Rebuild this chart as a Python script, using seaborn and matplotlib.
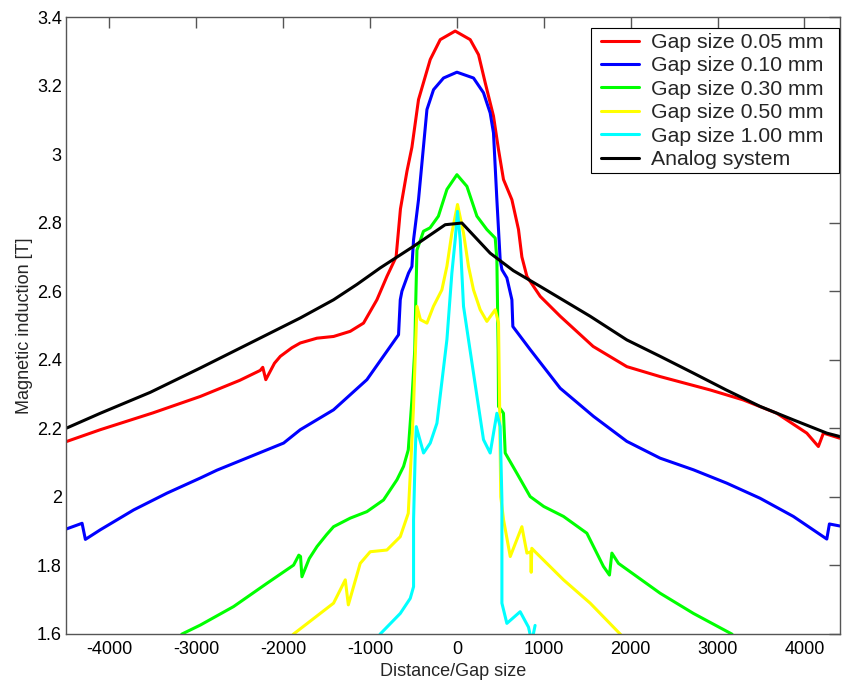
import numpy as np
import pandas as pd
import matplotlib
matplotlib.use("Agg")
import matplotlib.pyplot as plt
from matplotlib.patches import Rectangle
import seaborn as sns
from matplotlib.ticker import FuncFormatter

# ---------------- data ----------------
series_names = ["Gap size 0.05 mm", "Gap size 0.10 mm", "Gap size 0.30 mm",
                "Gap size 0.50 mm", "Gap size 1.00 mm", "Analog system"]
series_colors = ["#ff0000", "#0000ff", "#00ff00", "#ffff00", "#00ffff", "#000000"]

red_x = [-4500, -4105, -3500, -2954, -2500, -2264, -2235, -2200, -2100, -2033, -1900,
         -1803, -1611, -1420, -1228, -1075, -921, -806, -700, -650, -575, -518, -442,
         -307, -192, -20, 153, 249, 326, 421, 479, 536, 633, 709, 748, 806, 959,
         1189, 1568, 1956, 2339, 2915, 3295, 3682, 4028, 4161, 4219, 4410]
red_y = [2.161, 2.196, 2.245, 2.293, 2.34, 2.369, 2.378, 2.342, 2.39, 2.41, 2.435,
         2.449, 2.463, 2.468, 2.483, 2.507, 2.575, 2.643, 2.70, 2.84, 2.95, 3.02, 3.159,
         3.276, 3.334, 3.359, 3.334, 3.29, 3.208, 3.111, 3.013, 2.926, 2.867, 2.78, 2.70,
         2.643, 2.585, 2.527, 2.439, 2.38, 2.351, 2.312, 2.283, 2.244, 2.186, 2.147,
         2.186, 2.171]

blue_x = [-4500, -4315, -4277, -4105, -3721, -3337, -2954, -2762, -1995, -1803,
          -1420, -1036, -672, -652, -633, -557, -518, -499, -442, -345, -269,
          -154, 0, 191, 306, 383, 421, 460, 498, 518, 575, 633, 644, 843, 1189,
          1572, 1956, 2339, 2723, 3107, 3490, 3873, 4258, 4288, 4410]
blue_y = [1.906, 1.923, 1.876, 1.904, 1.962, 2.011, 2.055, 2.078, 2.157, 2.196,
          2.254, 2.342, 2.473, 2.575, 2.60, 2.653, 2.672, 2.75, 2.867, 3.13, 3.188,
          3.222, 3.239, 3.222, 3.179, 3.12, 3.062, 2.867, 2.692, 2.663, 2.639, 2.575,
          2.497, 2.43, 2.317, 2.235, 2.162, 2.113, 2.079, 2.04, 1.996, 1.943, 1.877,
          1.921, 1.915]

green_x = [-3300, -3164, -2954, -2571, -2186, -1880, -1820, -1800, -1784, -1700,
           -1611, -1500, -1420, -1228, -1036, -845, -690, -614, -560, -518, -485,
           -475, -460, -385, -309, -213, -115, 0, 115, 230, 345, 441, 460, 475, 479,
           536, 556, 690, 843, 1000, 1227, 1496, 1687, 1756, 1784, 1860, 2339, 2723,
           3164, 3300]
green_y = [1.56, 1.60, 1.626, 1.68, 1.748, 1.801, 1.83, 1.826, 1.767, 1.82,
           1.855, 1.89, 1.913, 1.938, 1.957, 1.991, 2.05, 2.089, 2.137, 2.283, 2.43,
           2.556, 2.72, 2.775, 2.785, 2.819, 2.897, 2.94, 2.906, 2.819, 2.78, 2.755,
           2.692, 2.43, 2.264, 2.244, 2.128, 2.069, 2.001, 1.972, 1.943, 1.894, 1.797,
           1.772, 1.836, 1.806, 1.719, 1.66, 1.60, 1.56]

yellow_x = [-1950, -1880, -1420, -1285, -1250, -1113, -998, -806, -652, -560,
            -530, -500, -460, -420, -345, -270, -173, -115, -58, 7, 76, 133, 191,
            268, 345, 441, 479, 490, 505, 537, 614, 748, 806, 850, 855, 862, 900,
            1227, 1534, 1879, 1950]
yellow_y = [1.58, 1.60, 1.69, 1.758, 1.685, 1.806, 1.84, 1.845, 1.884, 1.952,
            2.10, 2.26, 2.556, 2.517, 2.507, 2.556, 2.604, 2.673, 2.77, 2.853, 2.77,
            2.673, 2.604, 2.546, 2.512, 2.546, 2.507, 2.30, 2.00, 1.933, 1.826, 1.913,
            1.836, 1.84, 1.78, 1.85, 1.84, 1.758, 1.69, 1.60, 1.58]

cyan_x = [-950, -883, -652, -537, -499, -499, -480, -468, -384, -307, -230, -115,
          -58, -20, 7, 38, 76, 191, 306, 383, 460, 498, 518, 518, 575, 728, 824,
          855, 880, 900]
cyan_y = [1.57, 1.60, 1.66, 1.704, 1.738, 1.933, 2.128, 2.205, 2.128, 2.157, 2.215,
          2.459, 2.653, 2.75, 2.833, 2.75, 2.556, 2.361, 2.167, 2.128, 2.244, 2.205,
          1.991, 1.69, 1.631, 1.665, 1.62, 1.585, 1.60, 1.625]

black_x = [-4500, -4105, -3530, -2954, -2378, -1803, -1420, -1150, -883, -499, -135,
           58, 383, 650, 959, 1534, 1956, 2340, 2723, 3100, 3490, 3870, 4258, 4410]
black_y = [2.200, 2.244, 2.305, 2.376, 2.449, 2.522, 2.575, 2.62, 2.668, 2.731, 2.794,
           2.799, 2.711, 2.66, 2.614, 2.527, 2.458, 2.41, 2.361, 2.312, 2.264, 2.225,
           2.186, 2.176]

x_ticks = [-4000, -3000, -2000, -1000, 0, 1000, 2000, 3000, 4000]
y_ticks = [1.6, 1.8, 2.0, 2.2, 2.4, 2.6, 2.8, 3.0, 3.2, 3.4]

# ---------------- build long table ----------------
all_x = [red_x, blue_x, green_x, yellow_x, cyan_x, black_x]
all_y = [red_y, blue_y, green_y, yellow_y, cyan_y, black_y]
frames = []
for name, xs, ys in zip(series_names, all_x, all_y):
    frames.append(pd.DataFrame({"x": xs, "y": ys, "series": name}))
df = pd.concat(frames, ignore_index=True)

# ---------------- style ----------------
sns.set_style("white")
plt.rcParams["font.family"] = ["Liberation Sans", "DejaVu Sans"]
plt.rcParams["axes.unicode_minus"] = False

W, H = 842, 682
fig = plt.figure(figsize=(W / 100, H / 100), dpi=100)
ax = fig.add_axes([66 / W, (H - 634) / H, (840 - 66) / W, (634 - 17) / H])

lw = 2.2
sns.lineplot(data=df, x="x", y="y", hue="series", hue_order=series_names,
             palette=dict(zip(series_names, series_colors)), estimator=None,
             sort=False, units="series", linewidth=lw, ax=ax)

ax.set_xlim(-4500, 4410)
ax.set_ylim(1.6, 3.4)
ax.set_xticks(x_ticks)
ax.set_yticks(y_ticks)
ax.yaxis.set_major_formatter(FuncFormatter(lambda v, p: f"{v:g}"))
ax.xaxis.set_major_formatter(FuncFormatter(lambda v, p: f"{v:g}"))

spine_col = "#555555"
for s in ax.spines.values():
    s.set_visible(True)
    s.set_color(spine_col)
    s.set_linewidth(1.0)

ax.tick_params(direction="in", length=8, width=1, color=spine_col, top=True,
               right=True, labelsize=13, labelcolor="black")
ax.tick_params(axis="x", pad=5)
ax.tick_params(axis="y", pad=3)

ax.set_xlabel("Distance/Gap size", fontsize=13, labelpad=4)
ax.set_ylabel("Magnetic induction [T]", fontsize=13, labelpad=3)

# legend: box drawn in figure pixels (inside the axes), entries placed inside it
ax.add_patch(Rectangle((591 / W, 1 - 173 / H), (839 - 591) / W, (173 - 28) / H,
                       transform=fig.transFigure, facecolor="white",
                       edgecolor="black", linewidth=0.8, zorder=4, clip_on=False))
leg = ax.legend(loc="upper left", bbox_to_anchor=(601 / W, 1 - 33 / H),
                bbox_transform=fig.transFigure, fontsize=15.3, frameon=False,
                borderpad=0, handlelength=1.8, handletextpad=0.55,
                labelspacing=0.21, borderaxespad=0)
leg.set_zorder(6)
for line in leg.get_lines():
    line.set_linewidth(lw)

fig.savefig("out.png", dpi=100)
